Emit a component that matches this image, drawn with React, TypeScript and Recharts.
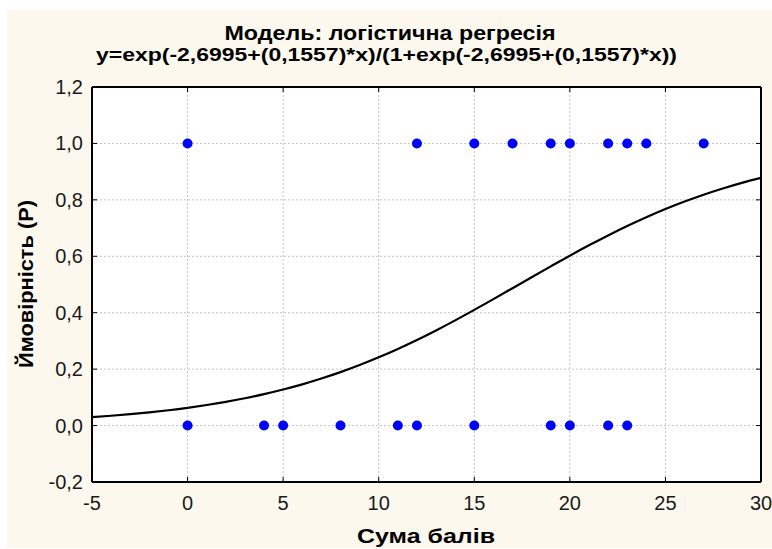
import React from 'react'
import {
  ComposedChart,
  Line,
  Scatter,
  XAxis,
  YAxis,
  CartesianGrid,
} from 'recharts'

// Scores of respondents with outcome 0 and outcome 1
const zeroScores = [0, 4, 5, 8, 11, 12, 15, 19, 20, 22, 23]
const oneScores = [0, 12, 15, 17, 19, 20, 22, 23, 24, 27]

// Fitted logistic curve, p(x) = exp(-2,6995 + 0,1557x) / (1 + exp(...))
const curveX = [
  -5, -4, -3, -2, -1, 0, 1, 2, 3, 4, 5, 6, 7, 8, 9, 10, 11, 12, 13, 14, 15, 16, 17,
  18, 19, 20, 21, 22, 23, 24, 25, 26, 27, 28, 29, 30,
]
const curveP = [
  0.0299, 0.0348, 0.0404, 0.0469, 0.0544, 0.063, 0.0729, 0.0841, 0.0969, 0.1114,
  0.1278, 0.1461, 0.1667, 0.1894, 0.2145, 0.2419, 0.2716, 0.3034, 0.3373, 0.3729,
  0.41, 0.4481, 0.4869, 0.5258, 0.5643, 0.6022, 0.6388, 0.6739, 0.7072, 0.7383,
  0.7673, 0.7939, 0.8182, 0.8402, 0.8601, 0.8778,
]

const xTicks = [-5, 0, 5, 10, 15, 20, 25, 30]
const yTicks = [-0.2, 0, 0.2, 0.4, 0.6, 0.8, 1.0, 1.2]

const titleLine1 = 'Модель: логістична регресія'
const titleLine2 = 'y=exp(-2,6995+(0,1557)*x)/(1+exp(-2,6995+(0,1557)*x))'
const xLabel = 'Сума балів'
const yLabel = 'Ймовірність (P)'

const points = [
  ...zeroScores.map((x) => ({ x, y: 0 })),
  ...oneScores.map((x) => ({ x, y: 1 })),
]
const curve = curveX.map((x, i) => ({ x, y: curveP[i] }))

const FONT = '"Liberation Sans", Arial, sans-serif'
const fmt = (v: number) => v.toFixed(1).replace('.', ',')

const BottomTick = (props: any) => {
  const { x, y, payload } = props
  return (
    <g>
      <line x1={x} y1={y} x2={x} y2={y - 5} stroke="#000" strokeWidth={1} />
      <text x={x} y={y + 28} textAnchor="middle" fontFamily={FONT} fontSize={20} fill="#1a1a1a">
        {payload.value}
      </text>
    </g>
  )
}

const LeftTick = (props: any) => {
  const { x, y, payload } = props
  return (
    <g>
      <line x1={x} y1={y} x2={x + 5} y2={y} stroke="#000" strokeWidth={1} />
      <text x={x - 9} y={y + 7} textAnchor="end" fontFamily={FONT} fontSize={20} fill="#1a1a1a">
        {fmt(payload.value)}
      </text>
    </g>
  )
}

const TopTick = (props: any) => {
  const { x, y } = props
  return <line x1={x} y1={y} x2={x} y2={y + 5} stroke="#000" strokeWidth={1} />
}

const RightTick = (props: any) => {
  const { x, y } = props
  return <line x1={x} y1={y} x2={x - 5} y2={y} stroke="#000" strokeWidth={1} />
}

const Dot = (props: any) => <circle cx={props.cx} cy={props.cy} r={5} fill="#0000ff" />

export default function App() {
  return (
    <div style={{ position: 'absolute', left: 0, top: 0, width: 772, height: 549, background: '#fff' }}>
      <div style={{ position: 'absolute', left: 7, top: 10, width: 765, height: 538, background: '#fdf8ee' }} />
      <div style={{ position: 'absolute', left: 0, top: 0 }}>
        <ComposedChart width={772} height={549} margin={{ top: 86, right: 10, bottom: 37, left: 32 }}>
          <CartesianGrid stroke="#c4c4c4" strokeDasharray="2 2" fill="#ffffff" />
          <XAxis
            type="number"
            dataKey="x"
            domain={[-5, 30]}
            ticks={xTicks}
            height={30}
            tickSize={0}
            tickMargin={0}
            tick={<BottomTick />}
            axisLine={{ stroke: '#000', strokeWidth: 2 }}
            tickLine={false}
            allowDataOverflow
          />
          <XAxis
            xAxisId="top"
            orientation="top"
            type="number"
            dataKey="x"
            domain={[-5, 30]}
            ticks={xTicks}
            height={1}
            tickSize={0}
            tickMargin={0}
            tick={<TopTick />}
            axisLine={{ stroke: '#000', strokeWidth: 2 }}
            tickLine={false}
            allowDataOverflow
          />
          <YAxis
            type="number"
            dataKey="y"
            domain={[-0.2, 1.2]}
            ticks={yTicks}
            width={60}
            tickSize={0}
            tickMargin={0}
            tick={<LeftTick />}
            axisLine={{ stroke: '#000', strokeWidth: 2 }}
            tickLine={false}
            allowDataOverflow
          />
          <YAxis
            yAxisId="right"
            orientation="right"
            type="number"
            dataKey="y"
            domain={[-0.2, 1.2]}
            ticks={yTicks}
            width={1}
            tickSize={0}
            tickMargin={0}
            tick={<RightTick />}
            axisLine={{ stroke: '#000', strokeWidth: 2 }}
            tickLine={false}
            allowDataOverflow
          />
          <Line
            data={curve}
            dataKey="y"
            type="monotone"
            stroke="#000"
            strokeWidth={2.2}
            dot={false}
            activeDot={false}
            isAnimationActive={false}
          />
          <Scatter data={points} dataKey="y" shape={<Dot />} isAnimationActive={false} />
        </ComposedChart>
      </div>
      <svg
        width={772}
        height={549}
        style={{ position: 'absolute', left: 0, top: 0, pointerEvents: 'none' }}
      >
        <text x={390} y={40} textAnchor="middle" fontFamily={FONT} fontWeight="bold" fontSize={20}
          textLength={331} lengthAdjust="spacingAndGlyphs" fill="#000">
          {titleLine1}
        </text>
        <text x={386.5} y={61} textAnchor="middle" fontFamily={FONT} fontWeight="bold" fontSize={19}
          textLength={581} lengthAdjust="spacingAndGlyphs" fill="#000">
          {titleLine2}
        </text>
        <text x={426} y={543} textAnchor="middle" fontFamily={FONT} fontWeight="bold" fontSize={21}
          textLength={138} lengthAdjust="spacingAndGlyphs" fill="#000">
          {xLabel}
        </text>
        <text x={33} y={284} transform="rotate(-90 33 284)" textAnchor="middle" fontFamily={FONT}
          fontWeight="bold" fontSize={20} textLength={168} lengthAdjust="spacingAndGlyphs" fill="#000">
          {yLabel}
        </text>
      </svg>
    </div>
  )
}
